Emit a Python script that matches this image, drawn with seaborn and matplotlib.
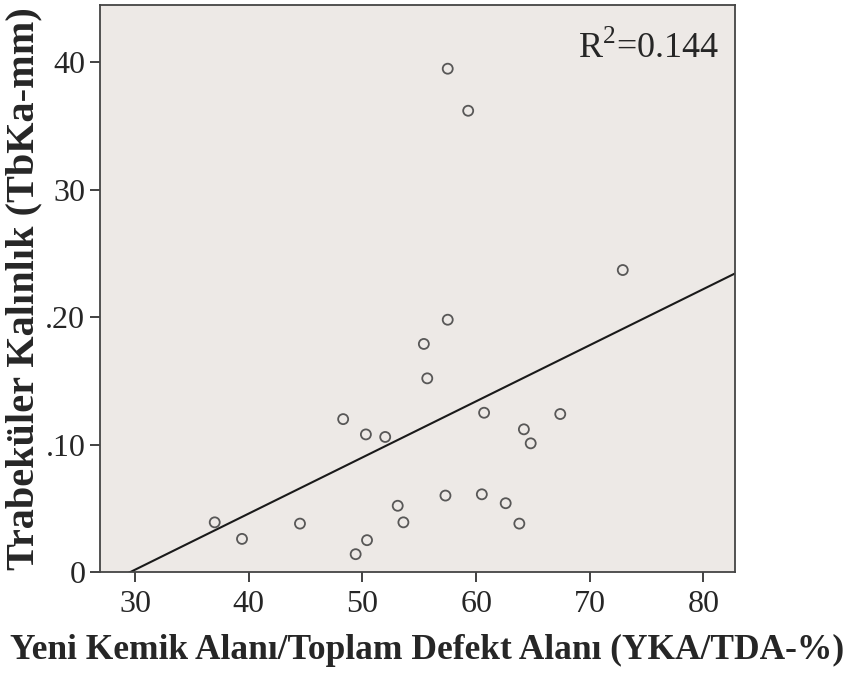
import matplotlib
matplotlib.use("Agg")
import matplotlib.pyplot as plt
import seaborn as sns
import pandas as pd

# values (YKA/TDA %, TbKa)
yka = [57.5, 59.3, 72.9, 57.5, 55.4, 55.7, 48.3, 50.3, 52.0, 60.7, 67.4, 64.2,
       64.8, 37.0, 39.4, 44.5, 49.4, 50.4, 53.1, 53.6, 57.3, 60.5, 62.6, 63.8]
tbka = [39.5, 36.2, 23.7, 19.8, 17.9, 15.2, 12.0, 10.8, 10.6, 12.5, 12.4, 11.2,
        10.1, 3.9, 2.6, 3.8, 1.4, 2.5, 5.2, 3.9, 6.0, 6.1, 5.4, 3.8]

x_ticks = [30, 40, 50, 60, 70, 80]
y_ticks = [0, 10, 20, 30, 40]
y_ticklabels = ["0", ".10", ".20", "30", "40"]
r2_text = "R$^{2}$=0.144"

df = pd.DataFrame({"YKA": yka, "TbKa": tbka})

sns.set_style("ticks")
plt.rcParams["font.family"] = ["Liberation Serif", "DejaVu Serif"]
plt.rcParams["mathtext.fontset"] = "custom"
plt.rcParams["mathtext.rm"] = "Liberation Serif"

fig = plt.figure(figsize=(8.54, 6.84), dpi=100)
ax = fig.add_axes([0.117, 0.1637, 0.744, 0.829])
ax.set_facecolor("#EDE9E6")

ax.set_xlim(26.9, 82.8)
ax.set_ylim(0, 44.5)

sns.regplot(data=df, x="YKA", y="TbKa", ax=ax, ci=None, truncate=False,
            scatter_kws=dict(s=52, facecolors="none", edgecolors="#333333", linewidths=1.3),
            line_kws=dict(color="#1a1a1a", lw=1.5))

ax.set_xlim(26.9, 82.8)
ax.set_ylim(0, 44.5)
ax.set_xticks(x_ticks)
ax.set_yticks(y_ticks)
ax.set_yticklabels(y_ticklabels)
ax.tick_params(labelsize=23, length=7, width=1.3, color="#333333", direction="out")
ax.tick_params(axis="x", pad=6)

for s in ax.spines.values():
    s.set_color("#444444")
    s.set_linewidth(1.3)

ax.set_xlabel("Yeni Kemik Alanı/Toplam Defekt Alanı (YKA/TDA-%)",
              fontsize=25.5, fontweight="bold")
ax.xaxis.set_label_coords(0.515, -0.11)
ax.set_ylabel("Trabeküler Kalınlık (TbKa-mm)",
              fontsize=29, fontweight="bold", labelpad=2)

ax.text(0.975, 0.955, r2_text, transform=ax.transAxes, ha="right", va="top",
        fontsize=26)

fig.savefig("out.png", dpi=100)
